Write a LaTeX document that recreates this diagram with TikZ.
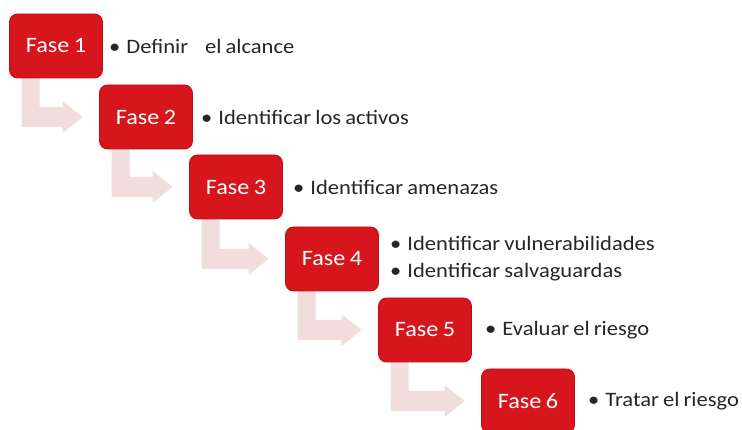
\documentclass[tikz,border=0pt]{standalone}
\usepackage{fontspec}
\setmainfont{Carlito}[FakeStretch=1.1,WordSpace=0.8]
\usetikzlibrary{calc}
\definecolor{faseRed}{RGB}{214,22,28}
\definecolor{faseEdge}{RGB}{190,15,20}
\definecolor{arrowPink}{RGB}{241,221,220}
\tikzset{
  fase/.style={fill=faseRed, draw=faseEdge, line width=0.8pt, rounded corners=8pt,
    minimum width=93pt, minimum height=64pt, inner sep=0pt,
    text=white, font=\fontsize{22}{24}\selectfont},
  item/.style={anchor=west, inner sep=0pt, text=black!85, font=\fontsize{20.5}{22}\selectfont},
  bentarrow/.style={fill=arrowPink, draw=none}
}
% #1 = centre of upper box, #2 = centre of lower box (coordinates, y grows downwards)
\newcommand{\bentarrow}[2]{%
  \fill[bentarrow]
    ($(#1)+(-34.5,29)$) coordinate (a)
    -- (a |- {$(#2)+(0,10)$}) coordinate (b)
    -- ($(#2)+(-83.5,10)$)
    -- ($(#2)+(-83.5,16)$)
    -- ($(#2)+(-63.5,0)$)
    -- ($(#2)+(-83.5,-16)$)
    -- ($(#2)+(-83.5,-10)$)
    -- ($(b)+(18,-20)$)
    -- ($(a)+(18,0)$) -- cycle;}
\begin{document}
\begin{tikzpicture}[x=1pt,y=-1pt]
\clip (0,0) rectangle (742,430);
\fill[white] (0,0) rectangle (742,430);
\coordinate (c1) at (56,46);
\coordinate (c2) at (146,117);
\coordinate (c3) at (236,187);
\coordinate (c4) at (332,259);
\coordinate (c5) at (425,330);
\coordinate (c6) at (528,401);
% arrows (behind the boxes)
\bentarrow{c1}{c2}
\bentarrow{c2}{c3}
\bentarrow{c3}{c4}
\bentarrow{c4}{c5}
\bentarrow{c5}{c6}
% boxes
\node[fase] (f1) at (c1) {Fase 1};
\node[fase] (f2) at (c2) {Fase 2};
\node[fase] (f3) at (c3) {Fase 3};
\node[fase] (f4) at (c4) {Fase 4};
\node[fase] (f5) at (c5) {Fase 5};
\node[fase] (f6) at (c6) {Fase 6};
% texts
\node[item] (t1) at (109,46) {•\hspace{6pt}Definir\hspace{17pt}el alcance};
\node[item] (t2) at (201,117) {•\hspace{6pt}Identificar los activos};
\node[item] (t3) at (293,187) {•\hspace{6pt}Identificar amenazas};
\node[item] (t4a) at (390,243) {•\hspace{6pt}Identificar vulnerabilidades};
\node[item] (t4b) at (390,272) {•\hspace{6pt}Identificar salvaguardas};
\node[item] (t5) at (485,330) {•\hspace{6pt}Evaluar el riesgo};
\node[item] (t6) at (588,401) {•\hspace{6pt}Tratar el riesgo};
\end{tikzpicture}
\end{document}
